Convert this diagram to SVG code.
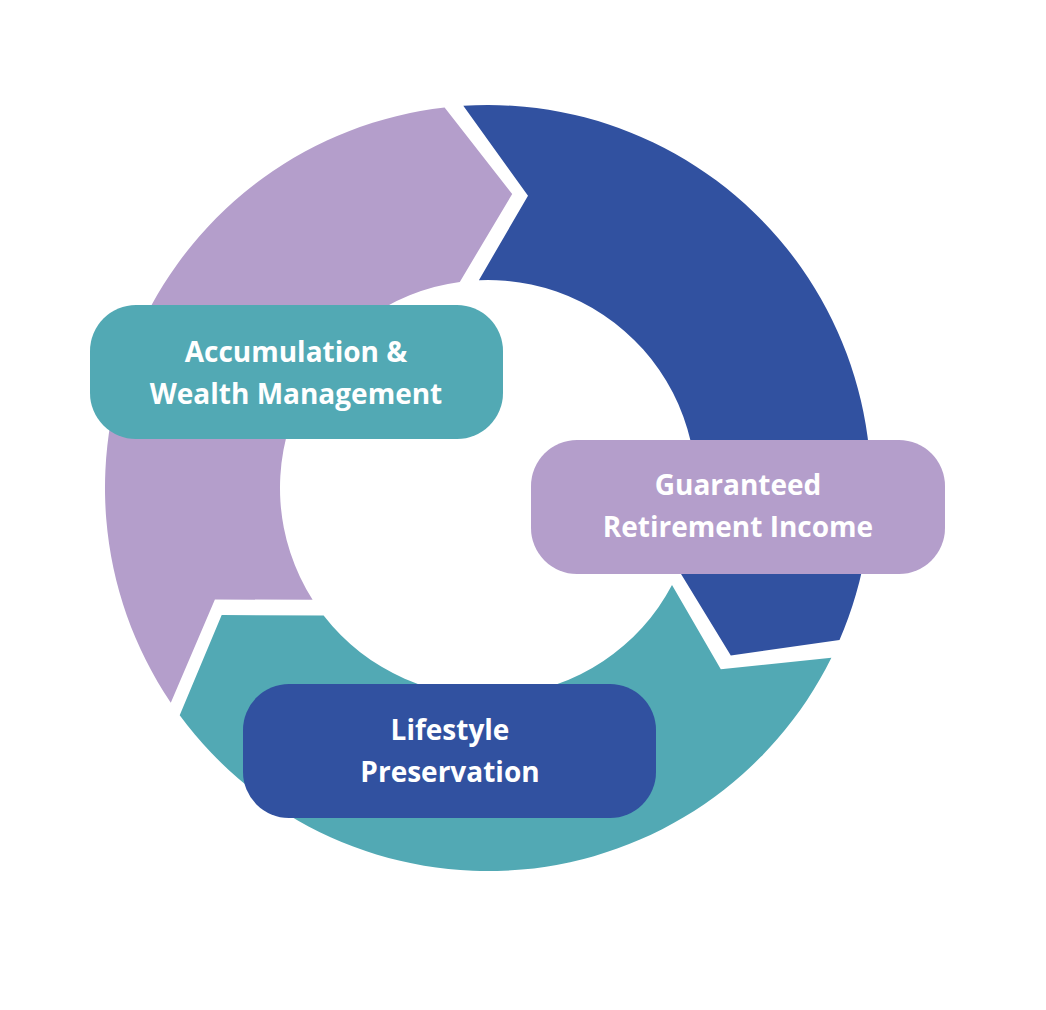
<svg xmlns="http://www.w3.org/2000/svg" width="1046" height="1010" viewBox="0 0 1046 1010">
<style>
.lbl{font-family:"Open Sans","Liberation Sans",sans-serif;font-weight:700;font-size:28px;fill:#fff;text-anchor:middle}
</style>
<rect width="1046" height="1010" fill="#fff"/>
<g id="connectors">
<path id="seg-blue" fill="#3151A0" d="M463.3,105.8 A383,383 0 0 1 839.5,640.1 L730.8,655.5 L678.9,570.6 A208,208 0 0 0 478.9,280.2 L528,195.7 Z"/>
<path id="seg-teal" fill="#52A9B4" d="M831.4,657.7 A383,383 0 0 1 179.7,715.3 L221.7,615 L323.6,615.5 A208,208 0 0 0 672,585 L720.8,669.2 Z"/>
<path id="seg-purple" fill="#B49ECB" d="M170.8,702.7 A383,383 0 0 1 444.6,107.5 L512.2,194 L459.8,281.9 A208,208 0 0 0 312.6,599.8 L214.9,599.5 Z"/>
</g>
<g id="node-accumulation">
<rect x="90" y="305" width="413" height="134" rx="46" fill="#52A9B4"/>
<text class="lbl" x="296" y="362">Accumulation &amp;</text>
<text class="lbl" x="296" y="404">Wealth Management</text>
</g>
<g id="node-guaranteed">
<rect x="531" y="440" width="414" height="134" rx="46" fill="#B49ECB"/>
<text class="lbl" x="738" y="495">Guaranteed</text>
<text class="lbl" x="738" y="537">Retirement Income</text>
</g>
<g id="node-lifestyle">
<rect x="243" y="684" width="413" height="134" rx="46" fill="#3151A0"/>
<text class="lbl" x="450" y="740">Lifestyle</text>
<text class="lbl" x="450" y="782">Preservation</text>
</g>
</svg>
